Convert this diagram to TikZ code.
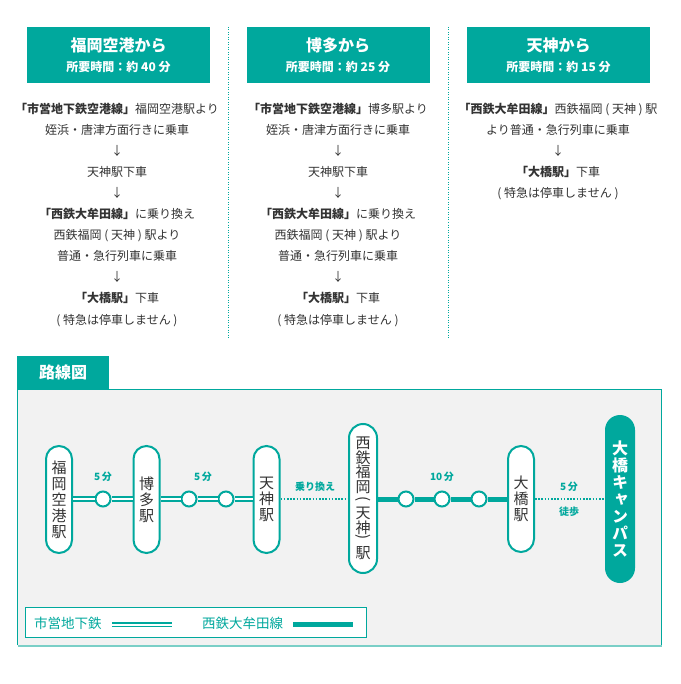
\documentclass[tikz,border=0pt]{standalone}
\usepackage{graphicx}
\usepackage{fontspec}
\setmainfont{Noto Sans CJK JP}
\newfontfamily\vjp[RawFeature=+vert]{Noto Sans CJK JP}
\definecolor{teal1}{RGB}{0,168,157}
\definecolor{txt}{RGB}{51,51,51}
\definecolor{panelbg}{RGB}{242,242,242}
\definecolor{lteal}{RGB}{122,207,199}
\newcommand{\vparL}{\rotatebox{-90}{(}}
\newcommand{\vparR}{\rotatebox{-90}{)}}
\begin{document}
\begin{tikzpicture}[x=1pt,y=-1pt,
  titlebox/.style={fill=teal1, draw=none, minimum width=183pt, minimum height=56pt, inner sep=0pt},
  ttl/.style={text=white, font=\bfseries\fontsize{16}{18}\selectfont, inner sep=0pt},
  subttl/.style={text=white, font=\bfseries\fontsize{12}{14}\selectfont, inner sep=0pt},
  body/.style={text=txt, font=\fontsize{12}{21.1}\selectfont, align=center, inner sep=0pt, anchor=north},
  sepline/.style={teal1, line width=1pt, dash pattern=on 1pt off 1.5pt},
  station/.style={draw=teal1, line width=2pt, fill=white, rounded corners=13pt, minimum width=26pt,
     inner sep=0pt, text=txt, align=center, font=\vjp\fontsize{15}{16}\selectfont},
  campus/.style={fill=teal1, draw=none, rounded corners=15pt, minimum width=30pt, minimum height=168pt,
     inner sep=0pt, text=white, align=center, font=\vjp\bfseries\fontsize{16}{17}\selectfont},
  stop/.style={circle, draw=teal1, line width=2pt, fill=white, minimum size=15pt, inner sep=0pt},
  subway/.style={teal1, line width=1.8pt, double=white, double distance=2pt},
  nishi/.style={teal1, line width=5pt},
  walk/.style={teal1, line width=1.6pt, dash pattern=on 1.6pt off 1.6pt},
  lbl/.style={text=teal1, font=\bfseries\fontsize{10}{12}\selectfont, inner sep=0pt},
  legtxt/.style={text=teal1, font=\fontsize{13.5}{15}\selectfont, inner sep=0pt, anchor=west}
]
\useasboundingbox (0,0) rectangle (680,684);
\fill[white] (0,0) rectangle (680,684);

% ---------- top columns ----------
\node[titlebox] (t1) at (118.5,55) {};
\node[titlebox] (t2) at (338,55) {};
\node[titlebox] (t3) at (558.5,55) {};
\node[ttl] (t1a) at (118.5,45) {福岡空港から};
\node[subttl] (t1b) at (118.5,67) {所要時間：約 40 分};
\node[ttl] (t2a) at (338,45) {博多から};
\node[subttl] (t2b) at (338,67) {所要時間：約 25 分};
\node[ttl] (t3a) at (558.5,45) {天神から};
\node[subttl] (t3b) at (558.5,67) {所要時間：約 15 分};

\coordinate (s1a) at (228.5,27);
\coordinate (s1b) at (228.5,338);
\coordinate (s2a) at (448.5,27);
\coordinate (s2b) at (448.5,338);
\draw[sepline] (s1a) -- (s1b);
\draw[sepline] (s2a) -- (s2b);

\node[body] (b1) at (117,102.5) {\textbf{「市営地下鉄空港線」}福岡空港駅より\\姪浜・唐津方面行きに乗車\\↓\\天神駅下車\\↓\\\textbf{「西鉄大牟田線」}に乗り換え\\西鉄福岡 ( 天神 ) 駅より\\普通・急行列車に乗車\\↓\\\textbf{「大橋駅」}下車\\( 特急は停車しません )};
\node[body] (b2) at (338,102.5) {\textbf{「市営地下鉄空港線」}博多駅より\\姪浜・唐津方面行きに乗車\\↓\\天神駅下車\\↓\\\textbf{「西鉄大牟田線」}に乗り換え\\西鉄福岡 ( 天神 ) 駅より\\普通・急行列車に乗車\\↓\\\textbf{「大橋駅」}下車\\( 特急は停車しません )};
\node[body] (b3) at (558,102.5) {\textbf{「西鉄大牟田線」}西鉄福岡 ( 天神 ) 駅\\より普通・急行列車に乗車\\↓\\\textbf{「大橋駅」}下車\\( 特急は停車しません )};

% ---------- route map panel ----------
\fill[panelbg] (17.5,389.5) rectangle (661.5,645);
\draw[teal1, line width=1pt] (17.5,645) -- (17.5,389.5) -- (661.5,389.5) -- (661.5,645);
\draw[lteal, line width=2pt] (17.5,645.5) -- (661.5,645.5);
\node[fill=teal1, minimum width=92pt, minimum height=33.5pt, inner sep=0pt] (tab) at (63,372.5) {};
\node[text=white, font=\bfseries\fontsize{16}{18}\selectfont, inner sep=0pt] (tabt) at (63,372) {路線図};

% stations
\node[station, minimum height=107pt] (fk) at (59,499.5) {福\\岡\\空\\港\\駅};
\node[station, minimum height=107pt] (hk) at (146.5,499.5) {博\\多\\駅};
\node[station, minimum height=107pt] (tj) at (266.5,499.5) {天\\神\\駅};
\node[station, minimum height=149pt, minimum width=28pt, rounded corners=14pt,
      font=\vjp\fontsize{15}{14.5}\selectfont] (nf) at (363,498.5)
      {\lineskiplimit=-100pt\relax 西\\鉄\\福\\岡\\[-10.5pt]\vparL\\[5pt]天\\神\\[-13.5pt]\vparR\\[6pt]駅};
\node[station, minimum height=106pt] (oh) at (521,499) {大\\橋\\駅};
\node[campus] (cp) at (620,499) {大\\橋\\キ\\ャ\\ン\\パ\\ス};

% intermediate stops
\coordinate (ly) at (0,499);
\node[stop] (c1) at (103,499) {};
\node[stop] (c2) at (189,499) {};
\node[stop] (c3) at (226,499) {};
\node[stop] (c4) at (406,499) {};
\node[stop] (c5) at (442,499) {};
\node[stop] (c6) at (479,499) {};

% lines
\draw[subway] (fk.east |- ly) -- (c1.west);
\draw[subway] (c1.east) -- (hk.west |- ly);
\draw[subway] (hk.east |- ly) -- (c2.west);
\draw[subway] (c2.east) -- (c3.west);
\draw[subway] (c3.east) -- (tj.west |- ly);
\draw[walk] (tj.east |- ly) -- (nf.west |- ly);
\draw[nishi] (nf.east |- ly) -- (c4.west);
\draw[nishi] (c4.east) -- (c5.west);
\draw[nishi] (c5.east) -- (c6.west);
\draw[nishi] (c6.east) -- (oh.west |- ly);
\draw[walk] (oh.east |- ly) -- (cp.west |- ly);

% labels
\node[lbl] (l1) at (103,477) {5\,分};
\node[lbl] (l2) at (203,477) {5\,分};
\node[lbl] (l3) at (315,487) {乗り換え};
\node[lbl] (l4) at (442,477) {10\,分};
\node[lbl] (l5) at (569,487) {5\,分};
\node[lbl] (l6) at (569,512) {徒歩};

% legend
\node[draw=teal1, line width=1pt, fill=white, minimum width=341pt, minimum height=30pt, inner sep=0pt] (leg) at (196,622.5) {};
\node[legtxt] (lg1) at (34,623.5) {市営地下鉄};
\coordinate (lg1a) at (112,624.5);
\coordinate (lg1b) at (172,624.5);
\draw[subway] (lg1a) -- (lg1b);
\node[legtxt] (lg2) at (202,623.5) {西鉄大牟田線};
\coordinate (lg2a) at (293,624.5);
\coordinate (lg2b) at (353,624.5);
\draw[nishi] (lg2a) -- (lg2b);
\end{tikzpicture}
\end{document}
